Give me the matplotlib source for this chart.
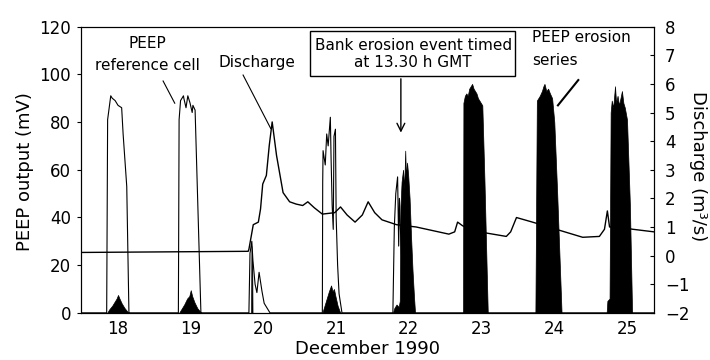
import matplotlib.pyplot as plt
from matplotlib.patches import Rectangle

plt.rcParams['font.family'] = ['DejaVu Sans']
plt.rcParams['font.size'] = 11

# time in days (December 1990)
ref_t = [17.49, 17.844, 17.857, 17.90, 17.92, 17.96, 18.00, 18.05, 18.07, 18.12, 18.15,
         18.83, 18.84, 18.86, 18.90, 18.905, 18.935, 18.96, 18.99, 19.02, 19.03, 19.06, 19.14,
         19.80, 19.815, 19.84, 19.855, 19.885, 19.91, 19.94, 19.965, 19.98, 20.01, 20.05, 20.09,
         20.81, 20.815, 20.82, 20.85, 20.87, 20.89, 20.92, 20.93, 20.945, 20.96, 20.97, 20.99,
         21.00, 21.02, 21.04, 21.07, 21.08,
         21.78, 21.80, 21.82, 21.845, 21.86, 21.87, 21.89, 21.92, 21.95, 25.37]
ref_mv = [0, 0, 81, 91, 90, 89, 87, 86, 75, 53, 0,
          0, 81, 89, 91, 90, 86, 91, 88, 84, 87, 85, 0,
          0, 25, 30, 22, 12, 8.5, 17, 12, 9, 4, 2, 0,
          0, 55, 68, 62, 75, 70, 82, 65, 45, 35, 74, 77,
          40, 20, 8, 2, 0,
          0, 36, 50, 57, 28, 48, 30, 10, 0, 0]

ero_t = [17.49, 17.85, 17.88, 17.92, 17.96, 17.98, 18.00, 18.02, 18.05, 18.09, 18.13, 18.16,
         18.84, 18.87, 18.91, 18.95, 18.98, 19.00, 19.02, 19.05, 19.09, 19.13, 19.15,
         19.83, 19.835, 19.845, 19.85,
         20.81, 20.84, 20.87, 20.90, 20.93, 20.95, 20.97, 20.99, 21.02, 21.05, 21.07,
         21.78, 21.80, 21.83, 21.86, 21.875, 21.885, 21.90, 21.92, 21.935, 21.95, 21.96,
         21.975, 21.99, 22.01, 22.03, 22.05, 22.07, 22.085,
         22.745, 22.75, 22.77, 22.79, 22.81, 22.83, 22.85, 22.87, 22.89, 22.91, 22.93,
         22.95, 22.97, 22.99, 23.01, 23.04, 23.085,
         23.73, 23.74, 23.76, 23.80, 23.83, 23.85, 23.865, 23.89, 23.915, 23.94, 23.97,
         24.00, 24.04, 24.10,
         24.72, 24.73, 24.76, 24.775, 24.79, 24.81, 24.835, 24.85, 24.87, 24.89, 24.91,
         24.93, 24.95, 24.97, 25.00, 25.04, 25.07, 25.37]
ero_mv = [0, 0, 1.5, 3, 5, 6, 7.5, 6, 4, 2, 0.5, 0,
          0, 1.5, 3.5, 6, 7, 9.5, 7, 4.5, 2, 0.5, 0,
          0, 28, 22, 0,
          0, 3, 6, 9, 11.5, 9, 10, 7, 3, 0.5, 0,
          0, 2, 3.5, 2.5, 5, 45, 55, 60, 52, 68, 57,
          63, 58, 48, 32, 18, 7, 0,
          0, 88, 91, 92, 91, 94, 95, 96, 94, 93, 92,
          90, 89, 88, 87, 55, 0,
          0, 0, 89, 91, 93, 95, 96, 93, 94, 92, 90,
          80, 50, 0,
          0, 5, 6, 84, 89, 86, 95, 88, 91, 87, 90,
          93, 88, 86, 81, 45, 0, 0]

dis_t = [17.49, 19.79, 19.80, 19.86, 19.93, 19.96, 19.99, 20.04, 20.08, 20.12, 20.18,
         20.27, 20.36, 20.45, 20.54, 20.61, 20.70, 20.81, 20.98, 21.06, 21.15, 21.26,
         21.36, 21.44, 21.53, 21.63, 21.83, 22.10, 22.55, 22.63, 22.67, 22.74, 22.97,
         23.34, 23.40, 23.48, 23.70, 24.39, 24.62, 24.69, 24.73, 24.76, 24.86, 25.08, 25.37]
dis_q = [0.11, 0.15, 0.22, 1.08, 1.17, 1.63, 2.5, 2.8, 3.85, 4.67, 3.5,
         2.2, 1.88, 1.80, 1.75, 1.88, 1.67, 1.45, 1.50, 1.70, 1.42, 1.17,
         1.42, 1.88, 1.50, 1.25, 1.08, 1.00, 0.75, 0.83, 1.17, 1.04, 0.83,
         0.67, 0.83, 1.33, 1.17, 0.64, 0.67, 0.92, 1.56, 1.0, 1.0, 0.92, 0.83]

days = [18, 19, 20, 21, 22, 23, 24, 25]

fig = plt.figure(figsize=(7.1, 3.6), dpi=100)
ax = fig.add_axes([0.114, 0.131, 0.807, 0.795])
ax2 = ax.twinx()

ax.fill_between(ero_t, 0, ero_mv, color='black', lw=0.5)
ax.plot(ref_t, ref_mv, color='black', lw=0.8)
ax2.plot(dis_t, dis_q, color='black', lw=1.0)

ax.set_xlim(17.49, 25.37)
ax.set_ylim(0, 120)
ax2.set_ylim(-2, 8)
ax.set_yticks(range(0, 121, 20))
ax2.set_yticks(range(-2, 9))
ax.set_xticks(days)
ax.tick_params(axis='x', length=0, pad=5, labelsize=12)
ax.tick_params(axis='y', direction='out', length=3, pad=4, labelsize=12)
ax2.tick_params(axis='y', direction='in', length=3, pad=8, labelsize=12)

ax.set_ylabel('PEEP output (mV)', fontsize=13, va='center')
ax.yaxis.set_label_coords(-0.098, 0.493)
ax2.set_ylabel('Discharge (m³/s)', rotation=270, fontsize=13, va='center')
ax2.yaxis.set_label_coords(1.077, 0.514)
ax.set_xlabel('December 1990', fontsize=13, va='center')
ax.xaxis.set_label_coords(0.5, -0.126)

# annotations
ax.text(18.40, 113, 'PEEP', ha='center', va='center')
ax.text(18.40, 103.5, 'reference cell', ha='center', va='center')
ax.plot([18.62, 18.78], [97.2, 87.9], color='black', lw=0.8)

ax.text(19.91, 104.8, 'Discharge', ha='center', va='center')
ax.plot([19.72, 20.10], [99.7, 77.3], color='black', lw=0.8)

ax.add_patch(Rectangle((20.64, 99.3), 2.82, 19.0, fc='white', ec='black', lw=1.0, zorder=3))
ax.text(22.06, 112, 'Bank erosion event timed', ha='center', va='center', zorder=4)
ax.text(22.06, 104.8, 'at 13.30 h GMT', ha='center', va='center', zorder=4)
ax.annotate('', xy=(21.89, 74.4), xytext=(21.89, 99.3),
            arrowprops=dict(arrowstyle='->', color='black', lw=1.0, mutation_scale=14))

ax.text(23.69, 115.3, 'PEEP erosion', ha='left', va='center')
ax.text(23.69, 106, 'series', ha='left', va='center')
ax.plot([24.33, 24.05], [97.6, 87.0], color='black', lw=1.5)

fig.savefig('out.png', dpi=100)
